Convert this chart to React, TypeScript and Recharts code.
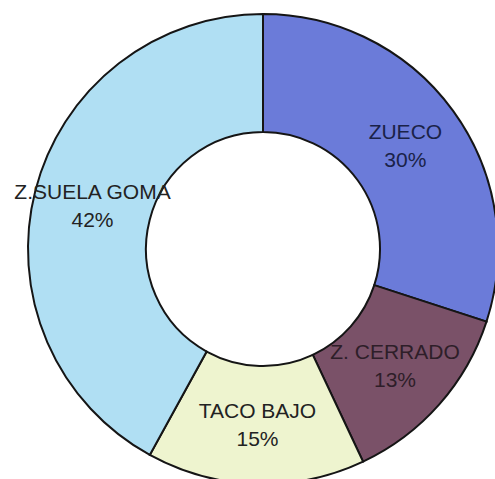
import { PieChart, Pie, Cell } from 'recharts'

const NAMES = ['ZUECO', 'Z. CERRADO', 'TACO BAJO', 'Z.SUELA GOMA']
const VALUES = [30, 13, 15, 42]
const COLORS = ['#6b7bd9', '#7a5168', '#eef4cf', '#b0dff3']
const TEXT_COLORS = ['#1a2248', '#2e1e29', '#222222', '#222222']

const data = NAMES.map((name, i) => ({ name, value: VALUES[i] }))

const RAD = Math.PI / 180

function renderLabel(props: any) {
  const { cx, cy, midAngle, innerRadius, outerRadius, index } = props
  const r = (innerRadius + outerRadius) / 2
  const x = cx + r * Math.cos(-midAngle * RAD)
  const y = cy + r * Math.sin(-midAngle * RAD)
  return (
    <text
      x={x}
      y={y}
      textAnchor="middle"
      fill={TEXT_COLORS[index]}
      fontFamily="'Liberation Sans', Arial, sans-serif"
      fontSize={21}
    >
      <tspan x={x} y={y - 14} dominantBaseline="central">{NAMES[index]}</tspan>
      <tspan x={x} y={y + 14} dominantBaseline="central">{`${VALUES[index]}%`}</tspan>
    </text>
  )
}

export default function App() {
  return (
    <div style={{ position: 'absolute', left: 0, top: 0, width: 495, height: 479, background: '#fff' }}>
      <PieChart width={495} height={479} margin={{ top: 0, right: 0, bottom: 0, left: 0 }}>
        <Pie
          data={data}
          dataKey="value"
          cx={263}
          cy={249}
          innerRadius={117}
          outerRadius={235}
          startAngle={90}
          endAngle={-270}
          stroke="#151515"
          strokeWidth={2}
          label={renderLabel}
          labelLine={false}
          isAnimationActive={false}
        >
          {data.map((d, i) => (
            <Cell key={d.name} fill={COLORS[i]} />
          ))}
        </Pie>
      </PieChart>
    </div>
  )
}
